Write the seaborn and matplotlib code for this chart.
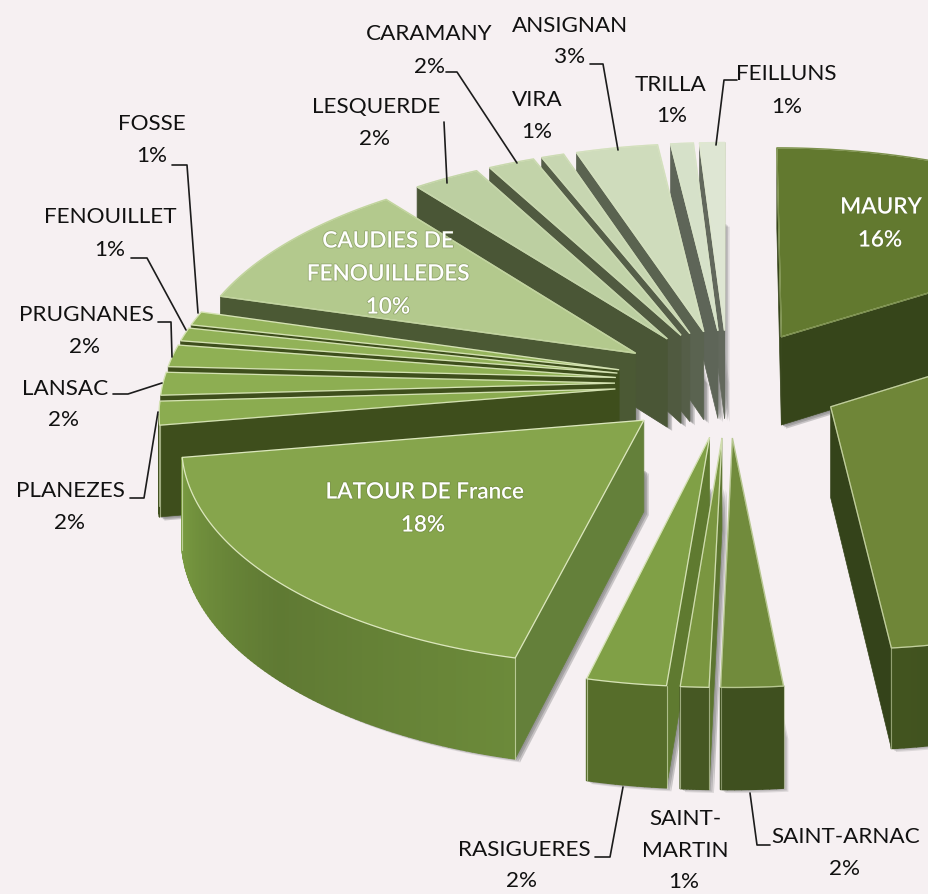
import colorsys
import numpy as np
import matplotlib
matplotlib.use("Agg")
import matplotlib.pyplot as plt
import matplotlib.patheffects as pe
from matplotlib.collections import PolyCollection
from matplotlib.colors import to_rgb
import seaborn as sns

# ---- data (clockwise from 12 o'clock) ----
communes = ["MAURY", "", "SAINT-ARNAC", "SAINT-MARTIN", "RASIGUERES", "LATOUR DE France",
            "PLANEZES", "LANSAC", "PRUGNANES", "FENOUILLET", "FOSSE", "CAUDIES DE FENOUILLEDES",
            "LESQUERDE", "CARAMANY", "VIRA", "ANSIGNAN", "TRILLA", "FEILLUNS"]
shares = [16.0, 32.42, 1.96, 0.9, 2.53, 18.55,
          1.75, 1.7, 1.65, 1.0, 1.04, 9.95,
          2.65, 1.85, 0.9, 3.25, 0.9, 1.0]

# ---- style ----
BG = "#f6f0f2"
top_cols = ["#62792f", "#6f8638", "#718b3c", "#7a9640", "#80a046", "#86a54c",
            "#8bac50", "#8dae52", "#8fb054", "#92b258", "#95b45c", "#b3c98d",
            "#bccfa1", "#c2d3a9", "#c7d6b1", "#cfdcbc", "#d6e1c9", "#dee6d3"]
wall_cols = ["#3a4a1b", "#3b4b1c", "#3f501f", "#465823", "#566d2a", "#6c8a3a",
             "#3e4e1c", "#3e4e1c", "#3e4e1c", "#3e4e1c", "#3e4e1c", "#47552f",
             "#4a5636", "#505a40", "#555e48", "#5a6350", "#5e6558", "#62685c"]
cut_cols = ["#36451a", "#34431a", "#5f7a30", "#5c7530", "#5f7a30", "#64803a",
            "#3e4e1c", "#3e4e1c", "#3e4e1c", "#3e4e1c", "#3e4e1c", "#4b5934",
            "#4a5636", "#505a40", "#555e48", "#5a6350", "#5e6558", "#62685c"]
edge_alpha = [0.2, 0.7, 0.6, 0.8, 0.85, 0.9, 0.8, 0.8, 0.8, 0.8, 0.8, 0.3, 0.2, 0.2, 0.2, 0.2, 0.1, 0.1]

CX, CY, AX, BY, PK, HT, EXPL = 728, 383, 452, 215, 0.094, 90, 0.25

sns.set_theme(style="white", rc={"figure.facecolor": BG, "axes.facecolor": BG})
plt.rcParams["font.family"] = ["Lato", "DejaVu Sans"]

fig = plt.figure(figsize=(9.29, 8.94), dpi=100)
ax = fig.add_axes([0, 0, 1, 1])
ax.set_xlim(0, 929)
ax.set_ylim(894, 0)
ax.axis("off")


def project(X, Y, z):
    s = 1.0 / (1.0 + PK * Y)
    return np.array([CX + AX * X * s, CY - BY * Y * s + HT * z * s])


def area(poly):
    p = np.asarray(poly)
    x, y = p[:, 0], p[:, 1]
    return np.sum(x * np.roll(y, -1) - np.roll(x, -1) * y)


def lightness(col):
    return colorsys.rgb_to_hls(*to_rgb(col))[1]


fracs = np.array(shares) / np.sum(shares)
ends = np.cumsum(fracs) * 2 * np.pi
starts = ends - fracs * 2 * np.pi
mids = (starts + ends) / 2


def geometry(i):
    ox, oy = EXPL * np.sin(mids[i]), EXPL * np.cos(mids[i])
    th = np.linspace(starts[i], ends[i], max(10, int(fracs[i] * 500)))
    rim_t = [project(ox + np.sin(t), oy + np.cos(t), 0) for t in th]
    rim_b = [project(ox + np.sin(t), oy + np.cos(t), 1) for t in th]
    tip_t, tip_b = project(ox, oy, 0), project(ox, oy, 1)
    return th, rim_t, rim_b, tip_t, tip_b


# soft contact shadows below everything
for offset, alpha in ((6, 0.25), (4, 0.35), (2, 0.45)):
    for i in range(len(shares)):
        th, rim_t, rim_b, tip_t, tip_b = geometry(i)
        base = np.array([tip_b] + rim_b)
        mid_h = np.array([tip_t + [0, 0.55 * HT]] + [r + [0, 0.55 * HT] for r in rim_t])
        for poly in (base, np.vstack([mid_h[:1], base[:1], base[1:2], mid_h[1:2]]),
                     np.vstack([mid_h[:1], base[:1], base[-1:], mid_h[-1:]])):
            ax.fill(poly[:, 0] + offset * 0.8, poly[:, 1] + offset * 0.6,
                    color="#8f8f8f", alpha=alpha, lw=0, zorder=1)

# painter's order: back slices first
order = np.argsort(-np.cos(mids))
z = 2
for i in order:
    th, rim_t, rim_b, tip_t, tip_b = geometry(i)
    light = "#e6efca"
    ea = edge_alpha[i]
    start_q = [tip_t, rim_t[0], rim_b[0], tip_b]
    end_q = [tip_t, rim_t[-1], rim_b[-1], tip_b]
    if area(start_q) < 0:
        ax.fill(*np.array(start_q).T, fc=cut_cols[i], ec=cut_cols[i], lw=0.5, zorder=z)
    if area(end_q) > 0:
        ax.fill(*np.array(end_q).T, fc=cut_cols[i], ec=cut_cols[i], lw=0.5, zorder=z)
    z += 1
    # outer wall, shaded along the arc (only the wide slices show a visible gradient)
    l0 = lightness(wall_cols[i])
    amp = 0.12 * min(1.0, max(0.0, (fracs[i] - 0.05) / 0.1))
    shade = sns.blend_palette([sns.set_hls_values(wall_cols[i], l=l0 * (1 + amp)),
                               sns.set_hls_values(wall_cols[i], l=l0 * (1 - amp)),
                               wall_cols[i]], n_colors=len(th) - 1)
    quads, cols = [], []
    for j in range(len(th) - 1):
        q = [rim_t[j], rim_t[j + 1], rim_b[j + 1], rim_b[j]]
        if area(q) < 0:
            quads.append(q)
            cols.append(shade[len(th) - 2 - j])
    if quads:
        ax.add_collection(PolyCollection(quads, facecolors=cols, edgecolors=cols, linewidths=1.2,
                                         capstyle="butt", zorder=z))
        for corner_t, corner_b in ((quads[0][0], quads[0][3]), (quads[-1][1], quads[-1][2])):
            ax.plot([corner_t[0], corner_b[0]], [corner_t[1], corner_b[1]], color=light, alpha=ea * 0.7, lw=0.8, zorder=z)
    z += 1
    top = np.array([tip_t] + rim_t)
    ax.fill(top[:, 0], top[:, 1], fc=top_cols[i], ec=light, lw=0.9, alpha=1, zorder=z)
    ax.fill(top[:, 0], top[:, 1], fc="none", ec=top_cols[i], lw=1.0, alpha=1 - ea, zorder=z)
    z += 1

# ---- labels ----
TXT = "#111111"
FS = 16.2
labels = [
    ("CARAMANY", "2%", 429, 34, 430, 67), ("ANSIGNAN", "3%", 570, 26, 570, 57),
    ("TRILLA", "1%", 671, 85, 672, 116), ("FEILLUNS", "1%", 786, 74, 787, 107),
    ("VIRA", "1%", 537, 100, 537, 132), ("LESQUERDE", "2%", 376, 107, 375, 139),
    ("FOSSE", "1%", 152, 124, 152, 156), ("FENOUILLET", "1%", 110, 217, 110, 250),
    ("PRUGNANES", "2%", 86, 315, 85, 347), ("LANSAC", "2%", 65, 389, 64, 420),
    ("PLANEZES", "2%", 70, 491, 70, 523), ("RASIGUERES", "2%", 524, 850, 522, 881),
    ("SAINT-ARNAC", "2%", 846, 837, 845, 869),
]
zt = z + 5
for name, pct, x0, y0, x1, y1 in labels:
    ax.text(x0, y0, name, ha="center", va="center", fontsize=FS, color=TXT, zorder=zt)
    ax.text(x1, y1, pct, ha="center", va="center", fontsize=FS, color=TXT, zorder=zt)
for s, x, y in (("SAINT-", 685, 819), ("MARTIN", 685, 851), ("1%", 684, 882)):
    ax.text(x, y, s, ha="center", va="center", fontsize=FS, color=TXT, zorder=zt)

halo = [pe.withStroke(linewidth=1.2, foreground="#5a6b35", alpha=0.35)]
inner = [("MAURY", 881, 207), ("16%", 880, 240), ("CAUDIES DE", 388, 241), ("FENOUILLEDES", 388, 274),
         ("10%", 388, 307), ("LATOUR DE France", 425, 492), ("18%", 423, 525)]
for s, x, y in inner:
    ax.text(x, y, s, ha="center", va="center", fontsize=FS, color="white", fontweight="semibold",
            path_effects=halo, zorder=zt)

leaders = [
    [(446, 72), (457, 72), (517, 163)],
    [(444, 122), (447, 183)],
    [(590, 64), (603, 64), (618, 150)],
    [(737, 80), (724, 80), (716, 145)],
    [(172, 165), (187, 165), (198, 313)],
    [(131, 258), (147, 258), (186, 330)],
    [(158, 322), (171, 322), (172, 357)],
    [(113, 394), (128, 394), (162, 383)],
    [(130, 498), (144, 498), (158, 412)],
    [(595, 857), (610, 857), (623, 787)],
    [(750, 793), (757, 845), (770, 845)],
]
for pts in leaders:
    xs, ys = zip(*pts)
    ax.plot(xs, ys, color="#1c1c1c", lw=1.2, zorder=zt)

fig.savefig("out.png", dpi=100, facecolor=BG)
